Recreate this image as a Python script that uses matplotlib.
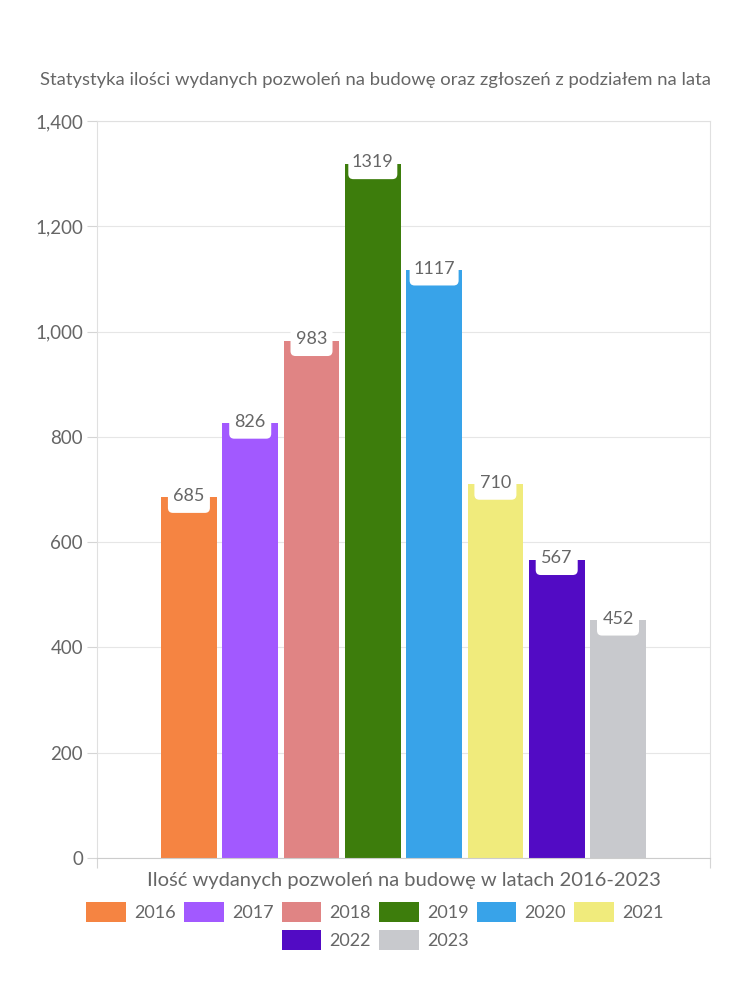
import matplotlib.pyplot as plt
from matplotlib.patches import Patch, FancyBboxPatch
from matplotlib.transforms import ScaledTranslation

# dane z wykresu
lata = ['2016', '2017', '2018', '2019', '2020', '2021', '2022', '2023']
pozwolenia = [685, 826, 983, 1319, 1117, 710, 567, 452]
kolory = ['#F58442', '#A259FF', '#E08484', '#3D7D0C', '#38A3E9', '#F0EB7C', '#520BC4', '#C8C9CD']

plt.rcParams['font.family'] = ['Lato', 'DejaVu Sans']
szary = '#666666'

fig = plt.figure(figsize=(7.5, 10), dpi=100)
ax = fig.add_axes([0.1293, 0.142, 0.8173, 0.737])

pozycje = [1.5 + i for i in range(len(lata))]
ax.bar(pozycje, pozwolenia, width=0.91, color=kolory, zorder=2)

# etykiety na slupkach - biale zaokraglone pudelka
for x, v in zip(pozycje, pozwolenia):
    szer = 0.42 if len(str(v)) == 3 else 0.49
    tr = fig.dpi_scale_trans + ScaledTranslation(x, v, ax.transData)
    box = FancyBboxPatch((-szer / 2, -0.155), szer, 0.30, boxstyle='round,pad=0,rounding_size=0.05',
                         fc='white', ec='none', transform=tr, zorder=3, clip_on=False)
    ax.add_patch(box)
    ax.annotate(str(v), (x, v), xytext=(0, 1), textcoords='offset points',
                ha='center', va='center', fontsize=13, color=szary, zorder=4)

ax.set_xlim(0, 10)
ax.set_ylim(0, 1400)
ax.set_yticks(range(0, 1401, 200))
ax.set_yticklabels([f'{v:,}' for v in range(0, 1401, 200)], fontsize=13.5, color=szary)
ax.set_xticks([0, 10])
ax.set_xticklabels([])
ax.tick_params(axis='y', length=7, color='#d5d5d5', pad=3)
ax.tick_params(axis='x', length=7, color='#d5d5d5', pad=0)
ax.grid(axis='y', color='#e6e6e6', linewidth=0.8, zorder=0)
for s in ax.spines.values():
    s.set_color('#e0e0e0')
ax.spines['bottom'].set_color('#cccccc')

ax.set_xlabel('Ilość wydanych pozwoleń na budowę w latach 2016-2023', fontsize=14.5,
              color=szary, labelpad=3)

fig.text(0.5, 0.92, 'Statystyka ilości wydanych pozwoleń na budowę oraz zgłoszeń z podziałem na lata',
         ha='center', va='center', fontsize=13.3, color=szary)

uchwyty = [Patch(facecolor=c, edgecolor='none') for c in kolory]
opcje = dict(loc='center', frameon=False, fontsize=13, handlelength=2.2, handleheight=1.25,
             columnspacing=0.45, handletextpad=0.45, labelcolor=szary)
fig.legend(uchwyty[:6], lata[:6], bbox_to_anchor=(0.5, 0.088), ncol=6, **opcje)
fig.legend(uchwyty[6:], lata[6:], bbox_to_anchor=(0.5, 0.06), ncol=2, **opcje)

fig.savefig('out.png', dpi=100, facecolor='white')
